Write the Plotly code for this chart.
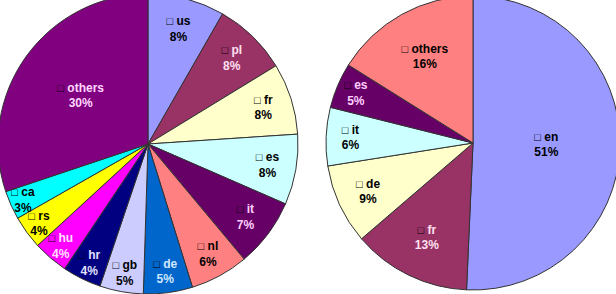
import plotly.graph_objects as go

# Left pie
left_labels = ["us", "pl", "fr", "es", "it", "nl", "de", "gb", "hr", "hu", "rs", "ca", "others"]
left_values = [8.3, 8.0, 7.7, 7.6, 7.4, 6.3, 5.3, 4.7, 4.2, 3.8, 3.6, 3.1, 30.2]
left_colors = ["#9999FF", "#993366", "#FFFFCC", "#CCFFFF", "#660066", "#FF8080", "#0066CC",
               "#CCCCFF", "#000080", "#FF00FF", "#FFFF00", "#00FFFF", "#800080"]
left_text_colors = ["#000000", "#FFE0F0", "#000000", "#000000", "#FFD0FF", "#000000", "#D0E8FF",
                    "#000000", "#E0E0FF", "#FFE0FF", "#000000", "#000000", "#FFD8FF"]

# Right pie
right_labels = ["en", "fr", "de", "it", "es", "others"]
right_values = [50.7, 13.0, 8.8, 6.4, 5.0, 16.1]
right_colors = ["#9999FF", "#993366", "#FFFFCC", "#CCFFFF", "#660066", "#FF8080"]
right_text_colors = ["#000000", "#FFE0F0", "#000000", "#000000", "#FFD0FF", "#000000"]

W, H = 624, 300
tmpl = "<span style='font-size:11px;color:#000000'>□</span> <b>%{label}</b><br><b>%{percent:.0%}</b>"

fig = go.Figure()
fig.add_trace(go.Pie(
    labels=left_labels, values=left_values, sort=False, direction="clockwise", rotation=0,
    marker=dict(colors=left_colors, line=dict(color="#333333", width=1)),
    texttemplate=tmpl, textposition="inside", insidetextorientation="horizontal",
    textfont=dict(family="Arial, Liberation Sans, sans-serif", size=12, color=left_text_colors),
    domain=dict(x=[0, 300 / W], y=[0, 1]), showlegend=False, hoverinfo="label+percent",
))
fig.add_trace(go.Pie(
    labels=right_labels, values=right_values, sort=False, direction="clockwise", rotation=0,
    marker=dict(colors=right_colors, line=dict(color="#333333", width=1)),
    texttemplate=tmpl, textposition="inside", insidetextorientation="horizontal",
    textfont=dict(family="Arial, Liberation Sans, sans-serif", size=12, color=right_text_colors),
    domain=dict(x=[328 / W, 622 / W], y=[4 / H, 298 / H]), showlegend=False, hoverinfo="label+percent",
))
fig.update_layout(
    width=W, height=H, margin=dict(l=0, r=0, t=0, b=0),
    paper_bgcolor="white", plot_bgcolor="white",
    uniformtext=dict(minsize=12, mode="show"),
    font=dict(family="Arial, Liberation Sans, sans-serif"),
)
fig.write_html(
    "out.html",
    config={"displayModeBar": False},
    post_script="var d=document.getElementById('{plot_id}'); d.style.position='relative'; d.style.left='-2px'; d.style.top='-6px'; document.body.style.margin='0'; document.body.style.overflow='hidden';",
)
